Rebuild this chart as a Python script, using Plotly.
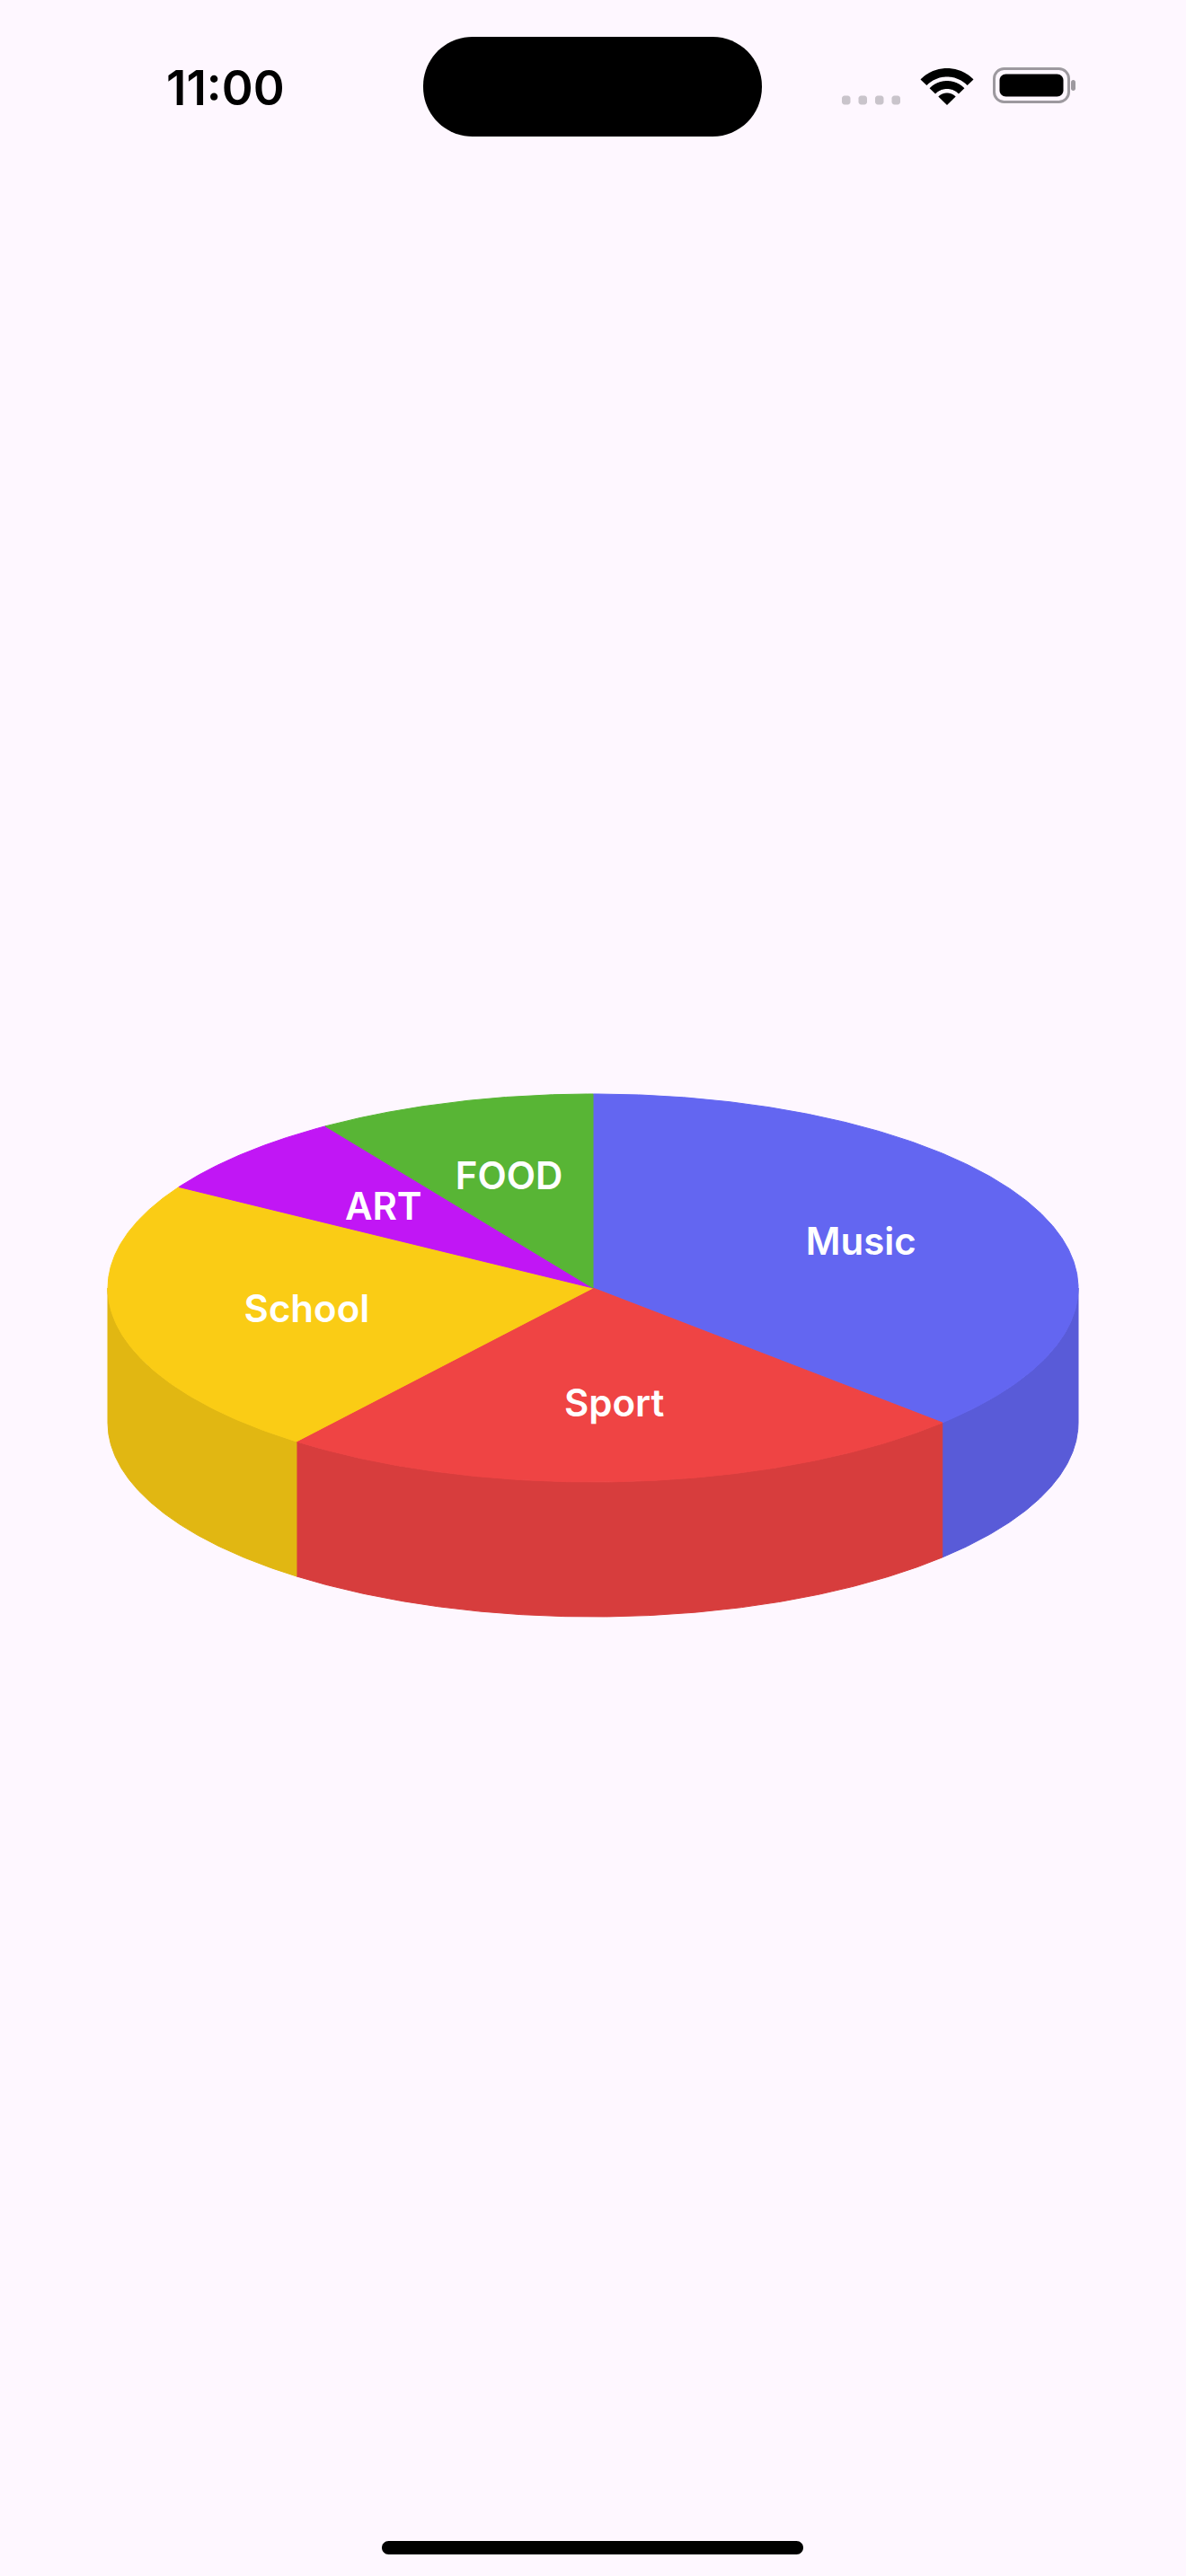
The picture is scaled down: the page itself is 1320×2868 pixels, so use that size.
import numpy as np
import plotly.graph_objects as go

# ---------------- data ----------------
categories = ["Music", "Sport", "School", "ART", "FOOD"]
values = [16, 10, 10, 3, 4]
top_colors = ["#6366F1", "#EF4444", "#FACC15", "#C116F5", "#58B535"]
status_time = "11:00"

# ---------------- geometry / style ----------------
W, H = 1320, 2868
BG = "#FEF7FF"
CX, CY = 660, 1434      # pie centre (px)
RX, RY = 540, 216       # ellipse radii of the top face
DEPTH = 150             # thickness of the pie
LABEL_R = 0.6           # label distance as a fraction of radius
LABEL_DY = 3.5          # small vertical text offset (px)
SHADE = 0.9             # darkening of the side walls


def darken(hex_color, f):
    h = hex_color.lstrip("#")
    r, g, b = (int(h[i:i + 2], 16) for i in (0, 2, 4))
    return "#{:02X}{:02X}{:02X}".format(int(r * f), int(g * f), int(b * f))


def ell(theta_deg):
    t = np.radians(theta_deg)
    return CX + RX * np.sin(t), CY - RY * np.cos(t)


fig = go.Figure()

total = float(sum(values))
bounds = np.concatenate([[0.0], np.cumsum(values) / total * 360.0])

# side walls (front half only: 90..270 deg clockwise from 12 o'clock)
for i, cat in enumerate(categories):
    a, b = bounds[i], bounds[i + 1]
    lo, hi = max(a, 90.0), min(b, 270.0)
    if hi <= lo:
        continue
    th = np.linspace(lo, hi, 200)
    xt, yt = ell(th)
    xs = np.concatenate([xt, xt[::-1], xt[:1]])
    ys = np.concatenate([yt, (yt + DEPTH)[::-1], yt[:1]])
    col = darken(top_colors[i], SHADE)
    fig.add_trace(go.Scatter(x=xs, y=ys, mode="lines", fill="toself",
                             fillcolor=col, line=dict(color=col, width=1),
                             hoverinfo="skip", showlegend=False))

# top faces
for i, cat in enumerate(categories):
    a, b = bounds[i], bounds[i + 1]
    th = np.linspace(a, b, 300)
    xt, yt = ell(th)
    xs = np.concatenate([[CX], xt, [CX]])
    ys = np.concatenate([[CY], yt, [CY]])
    fig.add_trace(go.Scatter(x=xs, y=ys, mode="lines", fill="toself",
                             fillcolor=top_colors[i],
                             line=dict(color=top_colors[i], width=1),
                             hoverinfo="skip", showlegend=False))

# labels
mids = (bounds[:-1] + bounds[1:]) / 2.0
lx = CX + LABEL_R * RX * np.sin(np.radians(mids))
ly = CY - LABEL_R * RY * np.cos(np.radians(mids)) + LABEL_DY
fig.add_trace(go.Scatter(x=lx, y=ly, mode="text", text=categories,
                         textposition="middle center",
                         textfont=dict(family="Inter", size=42, color="white",
                                       weight=600),
                         hoverinfo="skip", showlegend=False))


# ---------------- phone chrome ----------------
def rrect(x0, y0, x1, y1, r):
    k = 0.5523 * r
    return (f"M{x0 + r},{y0} L{x1 - r},{y0} "
            f"C{x1 - r + k},{y0} {x1},{y0 + r - k} {x1},{y0 + r} "
            f"L{x1},{y1 - r} "
            f"C{x1},{y1 - r + k} {x1 - r + k},{y1} {x1 - r},{y1} "
            f"L{x0 + r},{y1} "
            f"C{x0 + r - k},{y1} {x0},{y1 - r + k} {x0},{y1 - r} "
            f"L{x0},{y0 + r} "
            f"C{x0},{y0 + r - k} {x0 + r - k},{y0} {x0 + r},{y0} Z")


def band(cx, cy, r_out, r_in, half_deg):
    th = np.radians(np.linspace(-half_deg, half_deg, 40))
    pts = [(cx + r_out * np.sin(t), cy - r_out * np.cos(t)) for t in th]
    if r_in > 0:
        pts += [(cx + r_in * np.sin(t), cy - r_in * np.cos(t)) for t in th[::-1]]
    else:
        pts += [(cx, cy)]
    return "M" + " L".join(f"{x:.2f},{y:.2f}" for x, y in pts) + " Z"


shapes = []
# dynamic island
shapes.append(dict(type="path", path=rrect(471, 41, 848, 152, 55),
                   fillcolor="black", line=dict(width=0)))
# signal dots
for x0 in (937, 955.5, 974, 992.5):
    shapes.append(dict(type="path", path=rrect(x0, 106.5, x0 + 9.5, 116.5, 3),
                       fillcolor="#C9C4CB", line=dict(width=0)))
# wifi
for ro, ri in ((41, 31.5), (27, 18), (13.5, 0)):
    shapes.append(dict(type="path", path=band(1054, 117, ro, ri, 46),
                       fillcolor="black", line=dict(width=0)))
# battery
shapes.append(dict(type="path", path=rrect(1106.5, 76.5, 1189.5, 113.5, 11),
                   fillcolor="rgba(0,0,0,0)", line=dict(color="#9D999F", width=3)))
shapes.append(dict(type="path", path=rrect(1112.5, 82.5, 1183.5, 107.5, 7),
                   fillcolor="black", line=dict(width=0)))
shapes.append(dict(type="path", path=rrect(1192, 89, 1197, 101, 2.5),
                   fillcolor="#9D999F", line=dict(width=0)))
# home indicator
shapes.append(dict(type="path", path=rrect(425, 2829, 894, 2844, 7.5),
                   fillcolor="black", line=dict(width=0)))

fig.update_layout(
    width=W, height=H, autosize=False,
    margin=dict(l=0, r=0, t=0, b=0, pad=0),
    paper_bgcolor=BG, plot_bgcolor=BG,
    xaxis=dict(range=[0, W], visible=False, fixedrange=True),
    yaxis=dict(range=[H, 0], visible=False, fixedrange=True),
    shapes=shapes,
    annotations=[dict(x=251, y=98, xref="x", yref="y", text=status_time,
                      showarrow=False, xanchor="center", yanchor="middle",
                      font=dict(family="Inter", size=53, color="black",
                                weight=600))],
    showlegend=False,
)

fig.write_html("out.html", config={"displayModeBar": False, "staticPlot": True})
